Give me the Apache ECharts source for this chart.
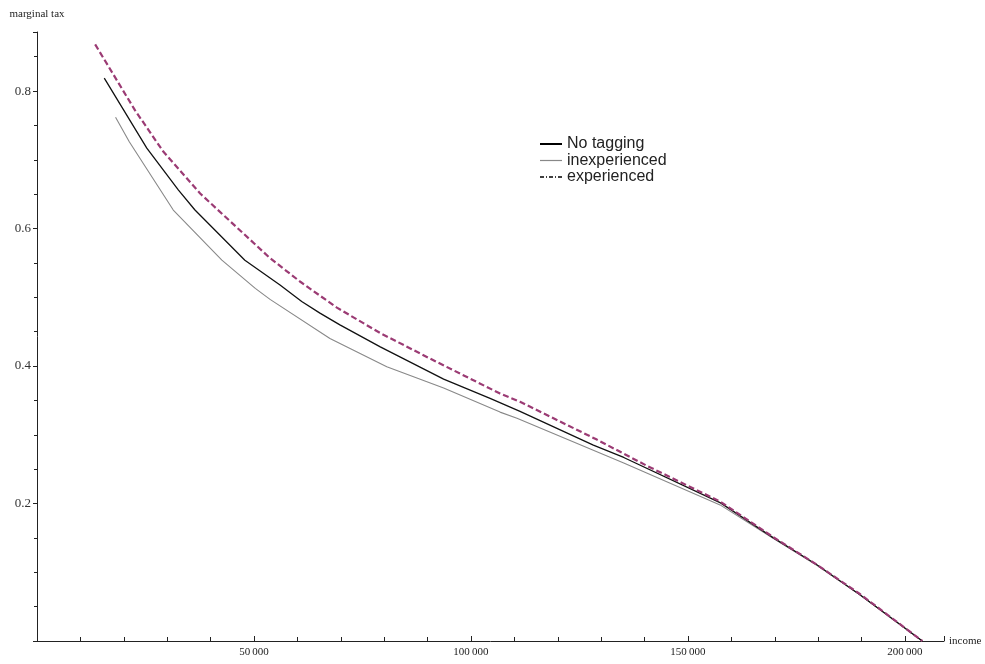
<!DOCTYPE html>
<html>
<head>
<meta charset="utf-8">
<script src="https://cdn.jsdelivr.net/npm/echarts@6/dist/echarts.min.js"></script>
<style>
  html, body { margin: 0; padding: 0; background: #fff; }
  #plot { width: 985px; height: 664px; }
</style>
</head>
<body>
<div id="plot"></div>
<script>
// [income, marginal tax]
const noTagging = [
    [15500, 0.819], [25300, 0.717], [32600, 0.656], [36400, 0.627], [47900, 0.554],
    [56000, 0.518], [61000, 0.494], [65200, 0.477], [69800, 0.460], [79100, 0.428],
    [93700, 0.381], [104400, 0.353], [111300, 0.334], [128200, 0.285], [135200, 0.267],
    [157500, 0.201], [169700, 0.150], [179700, 0.111], [189700, 0.067], [204000, 0.0]
];
const inexperienced = [
    [18100, 0.762], [21300, 0.726], [31400, 0.627], [42600, 0.554], [50300, 0.513],
    [53700, 0.497], [67500, 0.440], [80600, 0.399], [93700, 0.368], [106700, 0.333],
    [110600, 0.324], [135200, 0.259], [157400, 0.198], [169700, 0.149], [179700, 0.110],
    [189700, 0.067], [204000, 0.0]
];
const experienced = [
    [13400, 0.868], [22600, 0.772], [29100, 0.712], [37600, 0.651], [53700, 0.557],
    [60600, 0.523], [69100, 0.485], [79100, 0.448], [92100, 0.406], [106700, 0.360],
    [111300, 0.348], [129000, 0.293], [140500, 0.255], [157400, 0.203], [169700, 0.151],
    [179700, 0.111], [189700, 0.068], [204000, 0.0]
];
const seriesNames = ['No tagging', 'inexperienced', 'experienced'];

const serif = '"Liberation Serif", "DejaVu Serif", serif';
const sans = '"Liberation Sans", Arial, sans-serif';

function fmtIncome(v) {
    if (v === 0 || v % 50000 !== 0) return '';
    return String(v).replace(/\B(?=(\d{3})+(?!\d))/g, '\u2009');
}

const chart = echarts.init(document.getElementById('plot'));

const hideSymbol = { color: 'rgba(0,0,0,0)', opacity: 0, borderWidth: 0 };

chart.setOption({
    animation: false,
    grid: { left: 37, right: 41, top: 32, bottom: 23 },
    legend: {
        orient: 'vertical',
        left: 534,
        top: 131,
        itemWidth: 22,
        itemHeight: 12,
        itemGap: 0.5,
        textStyle: { fontSize: 16, fontFamily: sans, color: '#222', lineHeight: 16 },
        data: [
            { name: 'No tagging', itemStyle: hideSymbol, lineStyle: { color: '#000', width: 2 } },
            { name: 'inexperienced', itemStyle: hideSymbol, lineStyle: { color: '#888', width: 1.2 } },
            { name: 'experienced', itemStyle: hideSymbol, lineStyle: { color: '#000', width: 1.6, type: [4, 2, 1, 2] } }
        ]
    },
    xAxis: {
        type: 'value',
        min: 0,
        max: 209000,
        interval: 50000,
        name: 'income',
        nameLocation: 'end',
        nameGap: 5,
        nameTextStyle: { fontFamily: serif, fontSize: 11, color: '#222' },
        axisLine: { onZero: false, lineStyle: { color: '#222', width: 1 } },
        axisTick: { inside: true, length: 5, lineStyle: { color: '#222' } },
        minorTick: { show: true, splitNumber: 5, length: 4, lineStyle: { color: '#222' } },
        axisLabel: { formatter: fmtIncome, fontFamily: serif, fontSize: 11, color: '#222', margin: 6 },
        splitLine: { show: false }
    },
    yAxis: {
        type: 'value',
        min: 0,
        max: 0.886,
        interval: 0.2,
        name: 'marginal tax',
        nameLocation: 'end',
        nameGap: 12,
        nameTextStyle: { fontFamily: serif, fontSize: 11, color: '#222' },
        axisLine: { show: true, onZero: false, lineStyle: { color: '#222', width: 1 } },
        axisTick: { show: true, inside: false, length: 4, lineStyle: { color: '#222' } },
        minorTick: { show: true, splitNumber: 4, length: 3, lineStyle: { color: '#222' } },
        axisLabel: {
            formatter: v => (v > 0 && v < 0.85 ? v.toFixed(1) : ''),
            fontFamily: serif, fontSize: 13, color: '#333', margin: 6
        },
        splitLine: { show: false }
    },
    series: [
        {
            name: seriesNames[0], type: 'line', data: noTagging, symbol: 'none',
            lineStyle: { color: '#111', width: 1.3 }, itemStyle: { color: '#111' }, z: 3
        },
        {
            name: seriesNames[1], type: 'line', data: inexperienced, symbol: 'none',
            lineStyle: { color: '#888', width: 1.1 }, itemStyle: { color: '#888' }, z: 2
        },
        {
            name: seriesNames[2], type: 'line', data: experienced, symbol: 'none',
            lineStyle: { color: '#9b3b74', width: 2.2, type: [6, 3] }, itemStyle: { color: '#9b3b74' }, z: 4
        }
    ]
});
</script>
</body>
</html>
